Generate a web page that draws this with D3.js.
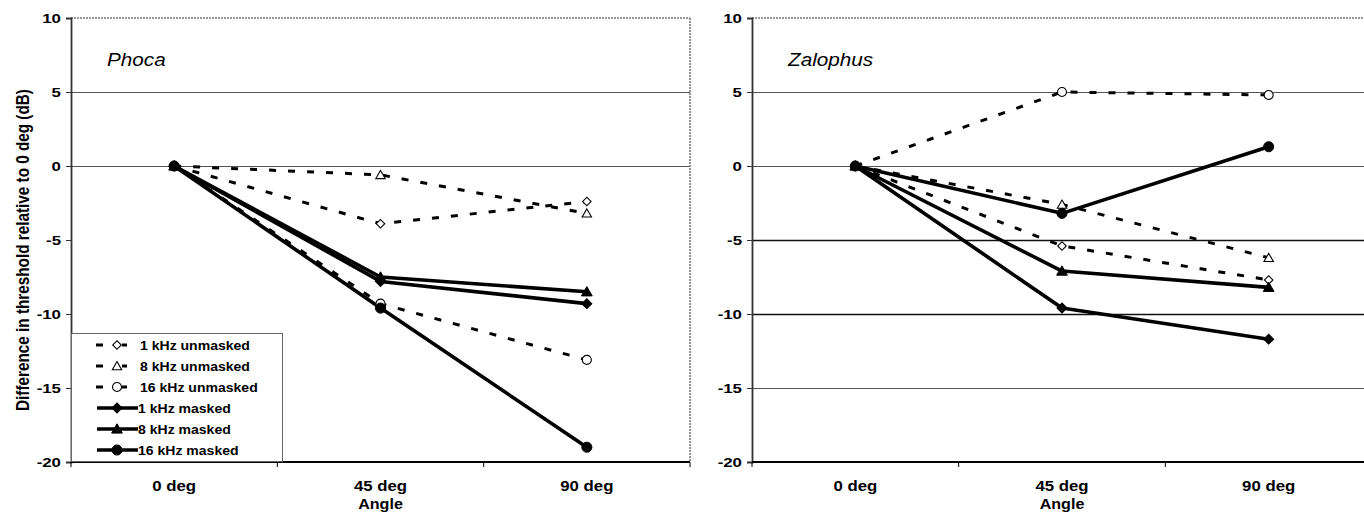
<!DOCTYPE html>
<html>
<head>
<meta charset="utf-8">
<script src="https://cdn.jsdelivr.net/npm/d3@7"></script>
<style>
  html, body { margin: 0; padding: 0; background: #fff; }
  svg { display: block; font-family: "Liberation Sans", Arial, sans-serif; }
</style>
</head>
<body>
<svg id="chart" width="1364" height="517"></svg>
<script>
// ---------- data ----------
const categories = ["0 deg", "45 deg", "90 deg"];
const seriesNames = ["1 kHz unmasked", "8 kHz unmasked", "16 kHz unmasked",
                     "1 kHz masked", "8 kHz masked", "16 kHz masked"];
const yTicks = [10, 5, 0, -5, -10, -15, -20];

// Phoca
const phoca_1kHz_unmasked  = [0, -3.9, -2.4];
const phoca_8kHz_unmasked  = [0, -0.6, -3.2];
const phoca_16kHz_unmasked = [0, -9.3, -13.1];
const phoca_1kHz_masked    = [0, -7.8, -9.3];
const phoca_8kHz_masked    = [0, -7.5, -8.5];
const phoca_16kHz_masked   = [0, -9.6, -19.0];

// Zalophus
const zalophus_1kHz_unmasked  = [0, -5.4, -7.7];
const zalophus_8kHz_unmasked  = [0, -2.6, -6.2];
const zalophus_16kHz_unmasked = [0, 5.0, 4.8];
const zalophus_1kHz_masked    = [0, -9.6, -11.7];
const zalophus_8kHz_masked    = [0, -7.1, -8.2];
const zalophus_16kHz_masked   = [0, -3.2, 1.3];

const leftGrid = [5, 0];
const rightGrid = [5, 0, -5, -10, -15];

// ---------- styles ----------
const seriesStyle = [
  {dash: true,  marker: "diamond",  filled: false},
  {dash: true,  marker: "triangle", filled: false},
  {dash: true,  marker: "circle",   filled: false},
  {dash: false, marker: "diamond",  filled: true},
  {dash: false, marker: "triangle", filled: true},
  {dash: false, marker: "circle",   filled: true}
];

const svg = d3.select("#chart");
const yTop = 18, yBot = 462;
const y = d3.scaleLinear().domain([-20, 10]).range([yBot, yTop]);

function markerPath(type, filled) {
  if (type === "diamond") return d3.symbol().type(d3.symbolSquare).size(filled ? 50 : 36)();
  if (type === "triangle") return d3.symbol().type(d3.symbolTriangle).size(filled ? 50 : 38)();
  return d3.symbol().type(d3.symbolCircle).size(filled ? 80 : 64)();
}

function drawMarker(g, type, filled, cx, cy) {
  return g.append("path")
    .attr("d", markerPath(type, filled))
    .attr("transform", `translate(${cx},${cy})` + (type === "diamond" ? " rotate(45)" : "") + (type === "triangle" ? " translate(0,1)" : ""))
    .attr("fill", filled ? "#000" : "#fff")
    .attr("stroke", "#000")
    .attr("stroke-width", filled ? 1 : 1.1);
}

function panel(opts) {
  const {x0, x1, title, series, grid} = opts;
  const g = svg.append("g");
  const x = d3.scalePoint().domain(categories).range([x0, x1]).padding(0.5);
  const band = (x1 - x0) / categories.length;

  // grid
  g.selectAll("line.grid").data(grid).enter().append("line")
    .attr("x1", x0).attr("x2", x1)
    .attr("y1", d => y(d) + 0.5).attr("y2", d => y(d) + 0.5)
    .attr("stroke", d => (d === -5 || d === -10) ? "#111" : "#555")
    .attr("stroke-width", d => (d === -5 || d === -10) ? 1.4 : 1.1);

  // frame top / right (dotted gray)
  g.append("line").attr("x1", x0).attr("x2", x1).attr("y1", yTop).attr("y2", yTop)
    .attr("stroke", "#777").attr("stroke-width", 1.6).attr("stroke-dasharray", "2,1");
  g.append("line").attr("x1", x1).attr("x2", x1).attr("y1", yTop).attr("y2", yBot)
    .attr("stroke", "#777").attr("stroke-width", 1.6).attr("stroke-dasharray", "2,1");

  // y axis
  const yAxis = d3.axisLeft(y).tickValues(yTicks).tickSize(5).tickFormat(d3.format("d"));
  const ya = g.append("g").attr("transform", `translate(${x0},0)`).call(yAxis);
  ya.select(".domain").attr("stroke", "#333").attr("stroke-width", 1.8);
  ya.selectAll(".tick line").attr("stroke", "#333").attr("stroke-width", 1);
  ya.selectAll(".tick text").remove();
  ya.selectAll(".tick").append("text")
    .attr("transform", "translate(-10,0) scale(1.35,1)")
    .attr("text-anchor", "end").attr("dy", "0.35em")
    .attr("font-size", 12.5).attr("font-weight", "bold").attr("fill", "#000")
    .text(d => d);

  // x axis
  const boundaries = d3.range(categories.length + 1).map(i => x0 + i * band);
  g.append("line").attr("x1", x0).attr("x2", x1).attr("y1", yBot).attr("y2", yBot)
    .attr("stroke", "#000").attr("stroke-width", 2);
  g.selectAll("line.xt").data(boundaries).enter().append("line")
    .attr("x1", d => d).attr("x2", d => d).attr("y1", yBot).attr("y2", yBot + 5)
    .attr("stroke", "#000").attr("stroke-width", 1);
  g.selectAll("text.xl").data(categories).enter().append("text")
    .attr("transform", d => `translate(${x(d)},491) scale(1.2,1)`)
    .attr("text-anchor", "middle")
    .attr("font-size", 14).attr("font-weight", "bold")
    .text(d => d);
  g.append("text")
    .attr("transform", `translate(${x(categories[1])},509) scale(1.15,1)`)
    .attr("text-anchor", "middle")
    .attr("font-size", 14).attr("font-weight", "bold")
    .text("Angle");

  // title
  g.append("text")
    .attr("transform", `translate(${x0 + 36},66) scale(1.15,1)`)
    .attr("font-size", 18).attr("font-style", "italic")
    .text(title);

  // series
  const line = d3.line().x((d, i) => x(categories[i])).y(d => y(d));
  series.forEach((vals, si) => {
    const st = seriesStyle[si];
    g.append("path").datum(vals)
      .attr("d", line)
      .attr("fill", "none").attr("stroke", "#000")
      .attr("stroke-width", st.dash ? 3 : 3.6)
      .attr("stroke-dasharray", st.dash ? "7,12" : null)
      .attr("stroke-linejoin", "round");
  });
  series.forEach((vals, si) => {
    const st = seriesStyle[si];
    vals.forEach((v, i) => drawMarker(g, st.marker, st.filled, x(categories[i]), y(v)));
  });
  return g;
}

panel({x0: 71, x1: 690, title: "Phoca", grid: leftGrid,
  series: [phoca_1kHz_unmasked, phoca_8kHz_unmasked, phoca_16kHz_unmasked,
           phoca_1kHz_masked, phoca_8kHz_masked, phoca_16kHz_masked]});

panel({x0: 752, x1: 1372, title: "Zalophus", grid: rightGrid,
  series: [zalophus_1kHz_unmasked, zalophus_8kHz_unmasked, zalophus_16kHz_unmasked,
           zalophus_1kHz_masked, zalophus_8kHz_masked, zalophus_16kHz_masked]});

// y axis title
svg.append("text")
  .attr("transform", "translate(29,250) rotate(-90) scale(1,1.15)")
  .attr("text-anchor", "middle")
  .attr("font-size", 15.3).attr("font-weight", "bold")
  .text("Difference in threshold relative to 0 deg (dB)");

// legend
const lg = svg.append("g");
lg.append("rect").attr("x", 71.5).attr("y", 333.5).attr("width", 211).attr("height", 128)
  .attr("fill", "#fff").attr("stroke", "#666").attr("stroke-width", 1);
const legendY = d3.scalePoint().domain(seriesNames).range([345, 450]);
seriesNames.forEach((name, si) => {
  const st = seriesStyle[si];
  const cy = legendY(name);
  if (st.dash) {
    lg.append("line").attr("x1", 96).attr("x2", 103).attr("y1", cy).attr("y2", cy)
      .attr("stroke", "#000").attr("stroke-width", 3);
    lg.append("line").attr("x1", 122).attr("x2", 127).attr("y1", cy).attr("y2", cy)
      .attr("stroke", "#000").attr("stroke-width", 3);
  } else {
    lg.append("line").attr("x1", 97).attr("x2", 138).attr("y1", cy).attr("y2", cy)
      .attr("stroke", "#000").attr("stroke-width", 3.6);
  }
  drawMarker(lg, st.marker, st.filled, 117, cy);
  lg.append("text")
    .attr("transform", `translate(${st.dash ? 140 : 138},${cy}) scale(1.08,1)`)
    .attr("dy", "0.36em")
    .attr("font-size", 13).attr("font-weight", "bold")
    .text(name);
});
</script>
</body>
</html>
